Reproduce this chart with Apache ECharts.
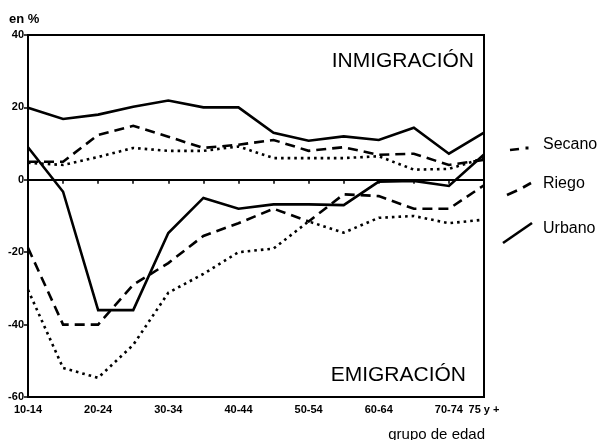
<!DOCTYPE html>
<html>
<head>
<meta charset="utf-8">
<script src="https://cdn.jsdelivr.net/npm/echarts@6/dist/echarts.min.js"></script>
<style>
  html, body { margin: 0; padding: 0; background: #fff; }
  #chart { width: 601px; height: 440px; }
</style>
</head>
<body>
<div id="chart"></div>
<script>
// Age groups along the x axis
const ageGroups = ['10-14', '15-19', '20-24', '25-29', '30-34', '35-39', '40-44',
                   '45-49', '50-54', '55-59', '60-64', '65-69', '70-74', '75 y +'];

// Immigration rates (%) by area type
const secanoInmigracion = [4.7, 4.1, 6.3, 8.8, 8, 8, 9.2, 6, 6, 6, 6.5, 2.8, 3, 6];
const riegoInmigracion  = [5, 5, 12.4, 14.9, 11.9, 8.8, 9.7, 11, 8, 9, 6.9, 7.2, 4.1, 5.5];
const urbanoInmigracion = [19.9, 16.8, 18, 20.2, 21.9, 20, 20, 13, 10.8, 12, 11, 14.4, 7.2, 13];

// Emigration rates (%) by area type
const secanoEmigracion = [-30.4, -52, -54.7, -45.6, -31.2, -26, -20, -19, -11.5, -14.6, -10.5, -10, -12, -11];
const riegoEmigracion  = [-18.8, -40, -40, -29, -23, -15.5, -12, -8, -11.5, -4, -4.5, -8, -8, -1.5];
const urbanoEmigracion = [9, -3.3, -36, -36, -14.7, -5, -8, -6.8, -6.8, -7, -0.5, -0.3, -1.7, 7];

// Y axis range
const yMin = -60, yMax = 40, yStep = 20;

const narrow = '"Liberation Sans Narrow", "Liberation Sans", Arial, sans-serif';
const sans = '"Liberation Sans", Arial, Helvetica, sans-serif';

const styles = {
  secano: { color: '#000', width: 2.6, type: [2.6, 4] },
  riego:  { color: '#000', width: 2.6, type: [10, 6] },
  urbano: { color: '#000', width: 2.6, type: 'solid' }
};

function lineSeries(name, data, st, extra) {
  return Object.assign({
    name: name,
    type: 'line',
    data: data,
    symbol: 'none',
    silent: true,
    lineStyle: { color: st.color, width: st.width, type: st.type, cap: 'butt', join: 'miter' },
    z: 3
  }, extra || {});
}

function label(x, y, text, font, align) {
  return { type: 'text', x: x, y: y, style: { text: text, font: font, fill: '#000', textAlign: align || 'left', textVerticalAlign: 'top' } };
}

const chart = echarts.init(document.getElementById('chart'), null, { renderer: 'canvas' });

chart.setOption({
  animation: false,
  backgroundColor: '#fff',
  grid: {
    left: 28, top: 35, width: 456, height: 362,
    show: true, borderColor: '#000', borderWidth: 2, backgroundColor: 'transparent'
  },
  xAxis: {
    type: 'category',
    data: ageGroups,
    boundaryGap: false,
    axisLine: { lineStyle: { color: '#000', width: 2 } },
    axisTick: { show: true, interval: 0, length: 4, lineStyle: { color: '#000', width: 1.5 } },
    axisLabel: {
      interval: function (i) { return i % 2 === 0 || i === ageGroups.length - 1; },
      color: '#000', fontFamily: narrow, fontSize: 11, fontWeight: 'bold', margin: 7
    },
    splitLine: { show: false }
  },
  yAxis: {
    type: 'value',
    min: yMin, max: yMax, interval: yStep,
    axisLine: { show: true, lineStyle: { color: '#000', width: 2 } },
    axisTick: { show: true, length: 4, lineStyle: { color: '#000', width: 1.5 } },
    axisLabel: { color: '#000', fontFamily: narrow, fontSize: 11, fontWeight: 'bold', margin: 4 },
    splitLine: { show: false }
  },
  series: [
    lineSeries('Secano', secanoInmigracion, styles.secano, {
      markLine: {
        silent: true, symbol: 'none', label: { show: false },
        lineStyle: { color: '#000', width: 1.5, type: 'solid' },
        data: [{ yAxis: 0 }]
      }
    }),
    lineSeries('Secano', secanoEmigracion, styles.secano),
    lineSeries('Riego', riegoInmigracion, styles.riego),
    lineSeries('Riego', riegoEmigracion, styles.riego),
    lineSeries('Urbano', urbanoInmigracion, styles.urbano),
    lineSeries('Urbano', urbanoEmigracion, styles.urbano)
  ],
  graphic: [
    label(9, 13, 'en %', 'bold 13px ' + sans),
    label(474, 51, 'INMIGRACIÓN', '21px ' + sans, 'right'),
    label(466, 365, 'EMIGRACIÓN', '21px ' + sans, 'right'),
    label(485, 427, 'grupo de edad', '15px ' + sans, 'right'),

    // legend keys
    { type: 'line', shape: { x1: 510, y1: 150, x2: 519, y2: 149 }, style: { stroke: '#000', lineWidth: 2.6 } },
    { type: 'rect', shape: { x: 525.5, y: 146.5, width: 3, height: 3 }, style: { fill: '#000' } },
    { type: 'line', shape: { x1: 507, y1: 195, x2: 517, y2: 190.5 }, style: { stroke: '#000', lineWidth: 2.6 } },
    { type: 'line', shape: { x1: 523, y1: 187.5, x2: 531, y2: 183 }, style: { stroke: '#000', lineWidth: 2.6 } },
    { type: 'line', shape: { x1: 503, y1: 243, x2: 532, y2: 223 }, style: { stroke: '#000', lineWidth: 2.6 } },
    label(543, 137, 'Secano', '16px ' + sans),
    label(543, 176, 'Riego', '16px ' + sans),
    label(543, 221, 'Urbano', '16px ' + sans)
  ]
});
</script>
</body>
</html>
